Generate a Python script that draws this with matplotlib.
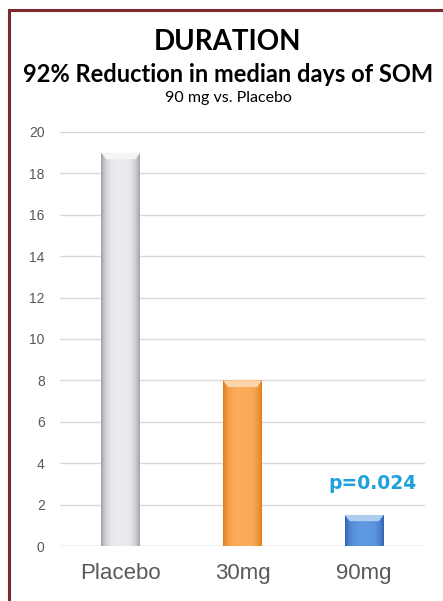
import numpy as np
import matplotlib.pyplot as plt
from matplotlib.colors import to_rgb
from matplotlib.lines import Line2D

categories = ["Placebo", "30mg", "90mg"]
median_days = [19, 8, 1.5]
yticks = [0, 2, 4, 6, 8, 10, 12, 14, 16, 18, 20]
# (edge colour, centre colour) for the shaded bars
bar_shades = [("#a2a4a7", "#e9ebee"), ("#de7f1c", "#fcac5a"), ("#3464b5", "#5e98e2")]

fig = plt.figure(figsize=(4.43, 6.01), dpi=100)
fig.patch.set_facecolor("white")

# dark red frame (right and bottom run off the picture)
fig.add_artist(Line2D([9 / 443, 9 / 443], [0, 1 - 10 / 601], color="#7b2b2d", lw=2.2))
fig.add_artist(Line2D([9 / 443, 1], [1 - 10 / 601, 1 - 10 / 601], color="#7b2b2d", lw=2.2))

cx = 228 / 443
fig.text(cx, 1 - 42 / 601, "DURATION", ha="center", va="center",
         fontsize=20, fontweight="bold", family="Lato")
fig.text(cx, 1 - 75 / 601, "92% Reduction in median days of SOM", ha="center",
         va="center", fontsize=17, fontweight="bold", family="Lato")
fig.text(cx, 1 - 98 / 601, "90 mg vs. Placebo", ha="center", va="center",
         fontsize=11.5, family="Lato")

ax = fig.add_axes([60 / 443, 1 - 546 / 601, 365 / 443, 414 / 601])
x = np.arange(len(categories))
width = 0.32
bars = ax.bar(x, median_days, width=width, color="none", zorder=2)

t = np.linspace(-1, 1, 64)
w = np.abs(t) ** 3.5
for b, (edge, centre) in zip(bars, bar_shades):
    e = np.array(to_rgb(edge))
    c = np.array(to_rgb(centre))
    grad = (c[None, :] * (1 - w[:, None]) + e[None, :] * w[:, None])[None, :, :]
    x0 = b.get_x()
    x1 = x0 + b.get_width()
    h = b.get_height()
    im = ax.imshow(grad, extent=(x0, x1, 0, h), aspect="auto", zorder=3,
                   interpolation="bilinear")
    im.set_clip_path(b)
    # lighter bevel on top
    bev = min(0.32, h * 0.2)
    top = c * 0.5 + np.array([1, 1, 1]) * 0.5
    ax.fill([x0, x1, x1 - 0.04, x0 + 0.04], [h, h, h - bev, h - bev],
            color=top, lw=0, zorder=4)

ax.text(x[2] + 0.07, 2.55, "p=0.024", ha="center", va="bottom", color="#1da1dd",
        fontsize=13.5, fontweight="bold", family="DejaVu Sans")

ax.set_xlim(-0.5, 2.5)
ax.set_ylim(0, 20)
ax.set_yticks(yticks)
ax.set_xticks(x)
ax.set_xticklabels(categories, fontsize=16, color="#595959", family="Liberation Sans")
ax.tick_params(axis="y", labelsize=10, colors="#595959", length=0, pad=11)
ax.tick_params(axis="x", length=0, pad=12)
for lbl in ax.get_yticklabels():
    lbl.set_family("Liberation Sans")
ax.yaxis.grid(True, color="#d9d9d9", lw=1)
ax.set_axisbelow(True)
for s in ax.spines.values():
    s.set_visible(False)
ax.axhline(0, color="#d9d9d9", lw=1, zorder=1)

fig.savefig("out.png", dpi=100)
